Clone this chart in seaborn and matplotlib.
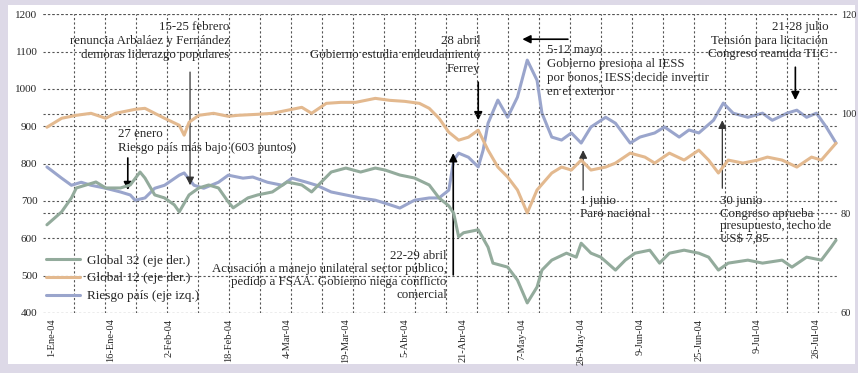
import matplotlib
matplotlib.use("Agg")
import matplotlib.pyplot as plt
from matplotlib.patches import Rectangle
from matplotlib.lines import Line2D
import seaborn as sns
import numpy as np

# ---------------- data (observation index, value) ----------------
riesgo_x = [0, 3, 5, 7, 9, 12, 15, 17, 18, 20, 22, 24, 27, 28, 30, 32, 35, 37, 40, 42,
            45, 48, 50, 53, 55, 58, 61, 64, 67, 69, 72, 75, 78, 80, 82, 83, 84, 86, 88, 89,
            90, 92, 94, 96, 98, 100, 101, 103, 105, 107, 109, 111, 114, 116, 119, 121, 124,
            126, 129, 131, 133, 136, 138, 140, 143, 146, 148, 151, 153, 155, 157, 159, 161]
riesgo_y = [791, 761, 742, 750, 742, 734, 724, 716, 702, 708, 734, 742, 769, 775, 742, 734,
            750, 769, 761, 764, 750, 742, 761, 750, 742, 724, 716, 708, 702, 694, 681, 702,
            708, 708, 729, 809, 828, 817, 791, 836, 908, 970, 924, 978, 1077, 1023, 935, 871,
            863, 882, 855, 898, 924, 908, 855, 871, 882, 898, 871, 890, 882, 916, 962, 935,
            924, 935, 916, 935, 943, 924, 935, 898, 855]

g32_x = [0, 3, 5, 6, 8, 10, 12, 15, 17, 19, 20, 22, 24, 26, 27, 29, 31, 33, 35, 37, 38,
         41, 43, 46, 49, 52, 54, 56, 58, 61, 64, 67, 69, 72, 75, 78, 80, 82, 83, 84, 85,
         88, 90, 91, 94, 96, 98, 100, 101, 103, 106, 108, 109, 111, 113, 116, 118, 120,
         123, 125, 127, 130, 133, 135, 137, 139, 143, 146, 150, 152, 155, 158, 160, 161]
g32_y = [77.7, 80.3, 83.1, 85.1, 85.7, 86.3, 85.1, 85.1, 85.7, 88.3, 87.1, 83.7, 83.1, 81.7,
         80.3, 83.7, 85.1, 85.7, 85.1, 82.3, 81.1, 83.1, 83.7, 84.3, 86.3, 85.7, 84.3, 86.3,
         88.3, 89.1, 88.3, 89.1, 88.7, 87.7, 87.1, 85.7, 83.1, 81.5, 80.0, 75.3, 76.1, 76.7,
         73.2, 70.0, 69.2, 66.6, 62.0, 65.2, 68.6, 70.6, 72.0, 71.2, 74.0, 72.0, 71.2, 68.6,
         70.6, 72.0, 72.6, 70.0, 72.0, 72.6, 72.0, 71.2, 68.6, 70.0, 70.6, 70.0, 70.6, 69.2,
         71.2, 70.6, 73.2, 74.6]

g12_x = [0, 3, 6, 9, 12, 14, 18, 20, 22, 24, 27, 28, 29, 31, 34, 37, 39, 43, 46, 49, 52,
         54, 57, 60, 63, 67, 70, 73, 76, 78, 80, 82, 84, 86, 88, 90, 92, 94, 96, 98, 100,
         103, 105, 107, 109, 111, 114, 116, 119, 122, 124, 127, 130, 133, 135, 137, 139,
         142, 145, 147, 150, 153, 156, 158, 161]
g12_y = [97.3, 99.1, 99.7, 100.1, 99.1, 100.1, 100.9, 101.1, 100.1, 99.1, 97.7, 95.7, 98.3,
         99.7, 100.1, 99.5, 99.7, 99.9, 100.1, 100.7, 101.3, 100.1, 102.1, 102.3, 102.3,
         103.1, 102.7, 102.5, 102.1, 101.1, 99.1, 96.3, 94.7, 95.3, 96.7, 92.7, 89.3, 87.3,
         84.7, 80.1, 84.7, 88.1, 89.3, 88.7, 90.7, 88.7, 89.3, 90.1, 92.1, 91.3, 90.1, 92.1,
         90.7, 92.7, 90.7, 88.1, 90.7, 90.1, 90.7, 91.3, 90.7, 89.3, 91.3, 90.7, 94.1]

tick_obs = [1, 13, 25, 37, 49, 61, 73, 85, 97, 109, 121, 133, 145, 157]
tick_labels = ["1-Ene-04", "16-Ene-04", "2-Feb-04", "18-Feb-04", "4-Mar-04", "19-Mar-04",
               "5-Abr-04", "21-Abr-04", "7-May-04", "26-May-04", "9-Jun-04", "25-Jun-04",
               "9-Jul-04", "26-Jul-04"]
left_ticks = [400, 500, 600, 700, 800, 900, 1000, 1100, 1200]
right_ticks = [60, 80, 100, 120]

series_names = ["Global 32 (eje der.)", "Global 12 (eje der.)", "Riesgo país (eje izq.)"]
c_g32 = "#93ab9c"
c_g12 = "#e3b98f"
c_rp = "#9aa5cc"

# ---------------- figure ----------------
sns.set_theme(style="white")
plt.rcParams["font.family"] = ["Liberation Serif", "DejaVu Serif"]

fig = plt.figure(figsize=(8.58, 3.73), dpi=100)
fig.patch.set_facecolor("#ddd9e7")
fig.add_artist(Rectangle((8 / 858, 9 / 373), 847 / 858, 359 / 373,
                         transform=fig.transFigure, facecolor="white", edgecolor="none", zorder=-5))

ax = fig.add_axes([43 / 858, 60 / 373, 795 / 858, 299 / 373])
ax.set_facecolor("none")
ax2 = ax.twinx()

sns.lineplot(x=riesgo_x, y=riesgo_y, ax=ax, color=c_rp, lw=2.2)
sns.lineplot(x=g32_x, y=g32_y, ax=ax2, color=c_g32, lw=2.2)
sns.lineplot(x=g12_x, y=g12_y, ax=ax2, color=c_g12, lw=2.2)

ax.set_xlim(-0.8, 161.4)
ax.set_ylim(400, 1200.5)

for a in (ax, ax2):
    for s in a.spines.values():
        s.set_visible(False)

ax.set_yticks(left_ticks)
ax.set_yticklabels([str(v) for v in left_ticks], fontsize=8)
ax2.set_ylim(59.98, 120.05)
ax2.yaxis.set_major_locator(matplotlib.ticker.FixedLocator(right_ticks))
ax2.yaxis.set_major_formatter(matplotlib.ticker.FixedFormatter([str(v) for v in right_ticks]))
ax.set_xticks(tick_obs)
ax.set_xticklabels(tick_labels, rotation=90, fontsize=7.5)
ax.tick_params(axis="both", length=0, pad=4)
ax2.tick_params(axis="y", length=0, pad=2, labelright=True, labelsize=7.5)

grid_kw = dict(color="#555555", lw=0.8, linestyle=(0, (2, 2)))
ax.set_xticks([5.51 + 6.327 * k for k in range(25)], minor=True)
ax.grid(True, which="minor", axis="x", **grid_kw)
ax.grid(False, which="major", axis="x")
ax.grid(True, which="major", axis="y", **grid_kw)
ax2.grid(True, which="major", axis="y", **grid_kw)
ax2.grid(False, axis="x")
ax.set_xlabel("")
ax.set_ylabel("")
ax2.set_ylabel("")

# legend
handles = [Line2D([], [], color=c, lw=2.2) for c in (c_g32, c_g12, c_rp)]
ax2.legend(handles, series_names, loc="upper left", bbox_to_anchor=(0.0, 0.205),
           frameon=False, fontsize=9.5, handlelength=2.6, labelspacing=0.42,
           handletextpad=0.5, borderaxespad=0.0, borderpad=0.2)

# annotations
fs = 9.3
ls = 1.22
arrow = dict(arrowstyle="-|>", color="black", lw=1.2, mutation_scale=12, shrinkA=0, shrinkB=0)
ax.text(37.3, 1182, "15-25 febrero\nrenuncia Arbaláez y Fernández\ndemoras liderazgo populares",
        ha="right", va="top", fontsize=fs, linespacing=ls)
ax.annotate("", xy=(29.2, 742), xytext=(29.2, 1045), arrowprops=dict(arrow, lw=0.9, color="#333333"))

ax.text(14.5, 894, "27 enero\nRiesgo país más bajo (603 puntos)", ha="left", va="top",
        fontsize=fs, linespacing=ls)
ax.annotate("", xy=(16.5, 729), xytext=(16.5, 815), arrowprops=arrow)

ax.text(88.4, 1143, "28 abril\nGobierno estudia endeudamiento\nFerrey", ha="right", va="top",
        fontsize=fs, linespacing=ls)
ax.annotate("", xy=(88.0, 916), xytext=(88.0, 1018), arrowprops=arrow)

ax.text(102, 1120, "5-12 mayo\nGobierno presiona al IESS\npor bonos, IESS decide invertir\nen el exterior",
        ha="left", va="top", fontsize=fs, linespacing=ls)
ax.annotate("", xy=(97.0, 1133), xytext=(106.3, 1133), arrowprops=arrow)

ax.text(159.4, 1183, "21-28 julio\nTensión para licitación\nCongreso reanuda TLC", ha="right", va="top",
        fontsize=fs, linespacing=ls)
ax.annotate("", xy=(152.7, 970), xytext=(152.7, 1058), arrowprops=arrow)

ax.text(108.8, 715, "1 junio\nParo nacional", ha="left", va="top", fontsize=fs, linespacing=1.1)
ax.annotate("", xy=(109.4, 836), xytext=(109.4, 729), arrowprops=dict(arrow, lw=0.9, color="#333333"))

ax.text(137.3, 715, "30 junio\nCongreso aprueba\npresupuesto, techo de\nUS$ 7,85", ha="left", va="top",
        fontsize=fs, linespacing=1.05)
ax.annotate("", xy=(137.8, 916), xytext=(137.8, 734), arrowprops=dict(arrow, lw=0.9, color="#333333"))

ax.text(81.6, 568, "22-29 abril\nAcusación a manejo unilateral sector público,\n"
        "pedido a FSAA. Gobierno niega conflicto\ncomercial", ha="right", va="top",
        fontsize=fs, linespacing=1.12)
ax.annotate("", xy=(82.9, 828), xytext=(82.9, 502), arrowprops=arrow)

fig.savefig("out.png", dpi=100, facecolor=fig.get_facecolor())
